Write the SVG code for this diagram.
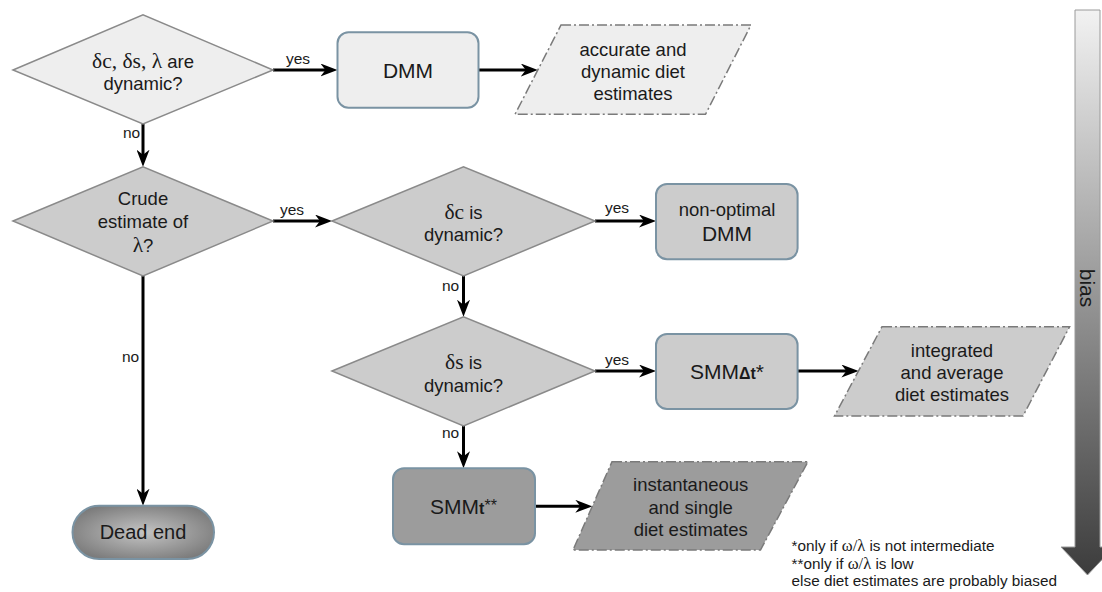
<svg xmlns="http://www.w3.org/2000/svg" width="1102" height="592" viewBox="0 0 1102 592">
<style>
  text { font-family: "Liberation Sans", Arial, sans-serif; fill: #1a1a1a; }
  .t { font-size: 18.5px; text-anchor: middle; }
  .big { font-size: 21px; }
  .g { font-family: "Liberation Serif", "Times New Roman", serif; font-size: 21.5px; }
  .gs { font-family: "Liberation Serif", "Times New Roman", serif; font-size: 16.5px; }
  .lbl { font-size: 15.5px; }
  .note { font-size: 15.3px; }
  .dia { stroke: #8a8a8a; stroke-width: 1.5; }
  .box { stroke: #7a93a3; stroke-width: 2; }
  .par { stroke: #7a7a7a; stroke-width: 1.5; stroke-dasharray: 10 3 2 3; }
  .c1 { fill: #eeeeee; }
  .c2 { fill: #cccccc; }
  .c3 { fill: #9c9c9c; }
  .con { fill: none; stroke: #000; stroke-width: 3; }
</style>
<defs>
  <marker id="arr" markerUnits="userSpaceOnUse" markerWidth="17" markerHeight="13" viewBox="0 0 17 13" refX="11" refY="6.5" orient="auto">
    <path d="M0,0 L17,6.5 L0,13 L5,6.5 Z" fill="#000"/>
  </marker>
  <radialGradient id="dead" cx="50%" cy="50%" r="60%">
    <stop offset="0" stop-color="#c4c4c4"/>
    <stop offset="1" stop-color="#787878"/>
  </radialGradient>
  <linearGradient id="biasg" x1="0" y1="0" x2="0" y2="1">
    <stop offset="0" stop-color="#f2f2f2"/>
    <stop offset="1" stop-color="#3c3c3c"/>
  </linearGradient>
</defs>

<g id="connectors">
  <path class="con" d="M273 70 H331.5" marker-end="url(#arr)"/>
  <path class="con" d="M478.6 70 H531.8" marker-end="url(#arr)"/>
  <path class="con" d="M143 124 V160.7" marker-end="url(#arr)"/>
  <path class="con" d="M273 221 H326" marker-end="url(#arr)"/>
  <path class="con" d="M595 221 H650" marker-end="url(#arr)"/>
  <path class="con" d="M463.5 276 V310.7" marker-end="url(#arr)"/>
  <path class="con" d="M595 371 H650" marker-end="url(#arr)"/>
  <path class="con" d="M797.6 371 H852.4" marker-end="url(#arr)"/>
  <path class="con" d="M143 276 V499.7" marker-end="url(#arr)"/>
  <path class="con" d="M463.5 426 V462.3" marker-end="url(#arr)"/>
  <path class="con" d="M535 506.3 H586.3" marker-end="url(#arr)"/>
  <text class="lbl" x="286" y="64">yes</text>
  <text class="lbl" x="123" y="138">no</text>
  <text class="lbl" x="280" y="214.5">yes</text>
  <text class="lbl" x="605" y="213">yes</text>
  <text class="lbl" x="442" y="291">no</text>
  <text class="lbl" x="122" y="362">no</text>
  <text class="lbl" x="605" y="364.5">yes</text>
  <text class="lbl" x="442" y="437.5">no</text>
</g>

<g id="d1">
  <polygon class="dia c1" points="13,70 143,14.7 273,70 143,124"/>
  <text class="t" x="143" y="68"><tspan class="g">δc, δs, λ</tspan> are</text>
  <text class="t" x="143" y="90">dynamic?</text>
</g>

<g id="dmm">
  <rect class="box c1" x="337.5" y="32.3" width="141" height="75.4" rx="11"/>
  <text class="t big" x="408" y="77.5">DMM</text>
</g>

<g id="out1">
  <polygon class="par c1" points="561,25 751,25 705.5,114.3 515,114.3"/>
  <text class="t" x="633" y="55.5">accurate and</text>
  <text class="t" x="633" y="77.5">dynamic diet</text>
  <text class="t" x="633" y="99.5">estimates</text>
</g>

<g id="d2">
  <polygon class="dia c2" points="13,221 143,166.7 273,221 143,276"/>
  <text class="t" x="143" y="204.5">Crude</text>
  <text class="t" x="143" y="227.5">estimate of</text>
  <text class="t" x="143" y="252"><tspan class="g">λ</tspan>?</text>
</g>

<g id="d3">
  <polygon class="dia c2" points="332,221 463.5,166.7 595,221 463.5,276"/>
  <text class="t" x="463.5" y="219"><tspan class="g">δc</tspan> is</text>
  <text class="t" x="463.5" y="241">dynamic?</text>
</g>

<g id="nonopt">
  <rect class="box c2" x="656" y="184" width="141.6" height="75.3" rx="11"/>
  <text class="t" x="727" y="215.5">non-optimal</text>
  <text class="t big" x="727" y="241">DMM</text>
</g>

<g id="d4">
  <polygon class="dia c2" points="332,371 463.5,316.7 595,371 463.5,426"/>
  <text class="t" x="463.5" y="368.5"><tspan class="g">δs</tspan> is</text>
  <text class="t" x="463.5" y="391.5">dynamic?</text>
</g>

<g id="smmdt">
  <rect class="box c2" x="656" y="334" width="141.6" height="75" rx="11"/>
  <text class="t big" x="727" y="379">SMM<tspan style="font-weight:bold;font-size:16px">Δt</tspan>*</text>
</g>

<g id="out2">
  <polygon class="par c2" points="882,326.7 1069.6,326.7 1023,416 834.5,416"/>
  <text class="t" x="952" y="357">integrated</text>
  <text class="t" x="952" y="379">and average</text>
  <text class="t" x="952" y="401">diet estimates</text>
</g>

<g id="dead-end">
  <rect x="72.5" y="505.7" width="141.5" height="53.3" rx="26.65" fill="url(#dead)" stroke="#7a93a3" stroke-width="2"/>
  <text class="t" x="143" y="539" style="font-size:20px">Dead end</text>
</g>

<g id="smmt">
  <rect class="box c3" x="393" y="468.3" width="142" height="76" rx="11"/>
  <text class="t big" x="463.5" y="514">SMM<tspan style="font-weight:bold;font-size:16px">t</tspan><tspan style="font-size:16px" dy="-3">**</tspan></text>
</g>

<g id="out3">
  <polygon class="par c3" points="612,461.7 808,461.7 760.5,550 573,550"/>
  <text class="t" x="690.7" y="491">instantaneous</text>
  <text class="t" x="690.7" y="513.5">and single</text>
  <text class="t" x="690.7" y="535.5">diet estimates</text>
</g>

<g id="notes">
  <text class="note" x="791.6" y="551">*only if <tspan class="gs">ω/λ</tspan> is not intermediate</text>
  <text class="note" x="791.6" y="568.5">**only if <tspan class="gs">ω/λ</tspan> is low</text>
  <text class="note" x="791.6" y="586">else diet estimates are probably biased</text>
</g>

<g id="bias">
  <path d="M1075 10 H1100 V547 H1114 L1087.5 575 L1061 547 H1075 Z" fill="url(#biasg)" stroke="#9a9a9a" stroke-width="1"/>
  <text transform="translate(1080,288) rotate(90)" style="font-size:21px;text-anchor:middle">bias</text>
</g>
</svg>
